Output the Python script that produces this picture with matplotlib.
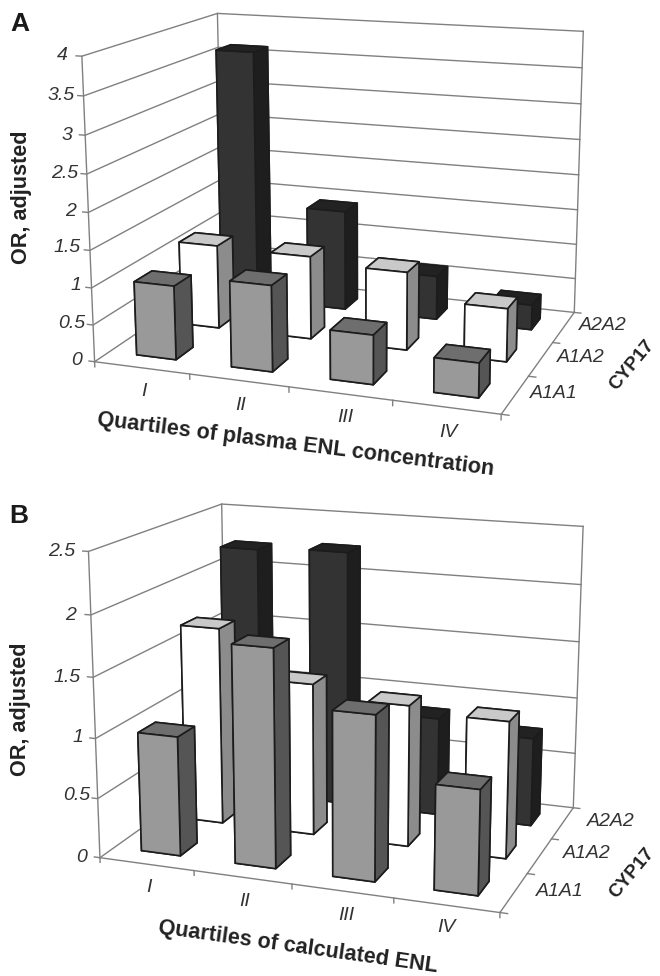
import numpy as np
import matplotlib
matplotlib.use("Agg")
import matplotlib.pyplot as plt

plt.rcParams['font.family'] = ['Liberation Sans', 'DejaVu Sans']

quartiles = ['I', 'II', 'III', 'IV']
genotypes = ['A1A1', 'A1A2', 'A2A2']

# panel A: OR, adjusted
a_A1A1 = [1.0, 1.15, 0.65, 0.45]
a_A1A2 = [1.17, 1.15, 1.07, 0.72]
a_A2A2 = [3.62, 1.43, 0.62, 0.35]
a_ticks = [0, 0.5, 1, 1.5, 2, 2.5, 3, 3.5, 4]
a_ticklabels = ['0', '0.5', '1', '1.5', '2', '2.5', '3', '3.5', '4']

# panel B: OR, adjusted
b_A1A1 = [1.0, 1.8, 1.35, 0.85]
b_A1A2 = [1.7, 1.3, 1.2, 1.15]
b_A2A2 = [2.22, 2.25, 0.86, 0.77]
b_ticks = [0, 0.5, 1, 1.5, 2, 2.5]
b_ticklabels = ['0', '0.5', '1', '1.5', '2', '2.5']

# camera calibration: frame location (x, y, z) -> reference pixel
a_calib = [
    ((0, 0, 0), (96, 360)), ((0, 0, .5), (93, 323)), ((0, 0, 1), (91, 287)), ((0, 0, 1.5), (89, 250)),
    ((0, 0, 2), (87, 212)), ((0, 0, 2.5), (86, 174)), ((0, 0, 3), (85, 136)), ((0, 0, 3.5), (83.5, 97)),
    ((0, 0, 4), (83, 57)), ((0, 3, 4), (218, 12)), ((0, 3, 0), (223, 278)),
    ((4, 3, 4), (584, 32)), ((4, 3, 3.5), (582, 68)), ((4, 3, 3), (581, 104)), ((4, 3, 2.5), (580, 139)),
    ((4, 3, 2), (578, 174)), ((4, 3, 1.5), (577, 210)), ((4, 3, 1), (576, 245)), ((4, 3, .5), (575, 277)),
    ((4, 3, 0), (573, 312)), ((4, 0, 0), (500, 415)),
    ((1, 0, 0), (191, 375)), ((2, 0, 0), (289, 387)), ((3, 0, 0), (392, 402)),
    ((4, 1, 0), (530, 376)), ((4, 2, 0), (555, 342)),
]
b_calib = [
    ((0, 0, 0), (101, 857)), ((0, 0, .5), (99, 797)), ((0, 0, 1), (96, 736)), ((0, 0, 1.5), (93, 678)),
    ((0, 0, 2), (91, 614)), ((0, 0, 2.5), (88, 552)), ((0, 3, 2.5), (221, 504)), ((0, 3, 0), (226, 769)),
    ((4, 3, 2.5), (583, 527)), ((4, 3, 2), (581, 585)), ((4, 3, 1.5), (580, 643)), ((4, 3, 1), (578, 697)),
    ((4, 3, .5), (575, 753)), ((4, 3, 0), (573, 807)), ((4, 0, 0), (500, 912)),
    ((1, 0, 0), (193, 873)), ((2, 0, 0), (291, 886)), ((3, 0, 0), (394, 900)),
    ((4, 1, 0), (526, 873)), ((4, 2, 0), (552, 837)),
]

FACE_COLORS = [
    # bottom, top, front, back, left, right
    ['#999999', '#6e6e6e', '#999999', '#999999', '#555555', '#555555'],
    ['#ffffff', '#c9c9c9', '#ffffff', '#ffffff', '#8c8c8c', '#8c8c8c'],
    ['#333333', '#222222', '#333333', '#333333', '#1e1e1e', '#1e1e1e'],
]
GRID = '#808080'
BAR_W, BAR_D = 0.42, 0.38


def fit_camera(calib):
    rows = []
    for (X, Y, Z), (u, v) in calib:
        u, v = u / 500.0, v / 500.0
        p = [X, Y, Z, 1]
        rows.append(p + [0, 0, 0, 0] + [-u * c for c in p])
        rows.append([0, 0, 0, 0] + p + [-v * c for c in p])
    P = np.linalg.svd(np.array(rows, float))[2][-1].reshape(3, 4)
    P[:2] *= 500.0
    if P[2] @ np.array([2, 1.5, 1, 1]) < 0:
        P = -P
    return P


def use_camera(ax, P):
    def get_proj():
        inv = ax.transData.inverted()
        o = inv.transform((0, 976))
        ex = inv.transform((1, 976))
        ey = inv.transform((0, 975))
        M = np.zeros((4, 4))
        M[0] = (ex[0] - o[0]) * P[0] + o[0] * P[2]
        M[1] = (ey[1] - o[1]) * P[1] + o[1] * P[2]
        M[2] = [0, 0, 0, -1]
        M[3] = P[2]
        return M
    ax.get_proj = get_proj


def panel(rect, calib, series, ticks, ztick_len):
    ax = fig.add_axes(rect, projection='3d', computed_zorder=False)
    ax.set_axis_off()
    ax.patch.set_visible(False)
    use_camera(ax, fit_camera(calib))
    top = ticks[-1]
    lkw = dict(color=GRID, lw=1.0, zorder=1)
    for z in ticks:
        ax.plot([-0.06, 0, 0, 4], [0, 0, 3, 3], [z, z, z, z], **lkw)
    ax.plot([0, 0], [0, 0], [0, top], **lkw)
    ax.plot([0, 0], [3, 3], [0, top], **lkw)
    ax.plot([4, 4], [3, 3], [0, top], **lkw)
    ax.plot([0, 4, 4], [0, 0, 3], [0, 0, 0], **lkw)
    for i in range(5):
        ax.plot([i, i], [0, 0], [0, -ztick_len], **lkw)
    for j in range(4):
        ax.plot([4, 4.07], [j, j], [0, 0], **lkw)
    order = 2
    for j in (2, 1, 0):
        for i in range(4):
            ax.bar3d(i + .5 - BAR_W / 2, j + .5 - BAR_D / 2, 0, BAR_W, BAR_D, series[j][i],
                     color=FACE_COLORS[j], shade=False, edgecolor='#1c1c1c', linewidth=1.2,
                     zorder=order)
            order += 1
    ax.set_xlim(0, 4); ax.set_ylim(0, 3); ax.set_zlim(0, top)
    return ax


def put(x, y, s, **kw):
    fig.text(x / 660, 1 - y / 976, s, **kw)


fig = plt.figure(figsize=(6.6, 9.76), dpi=100, facecolor='white')
H = 660 / 976
panel([0, 1 - H, 1, H], a_calib, [a_A1A1, a_A1A2, a_A2A2], a_ticks, 0.07)
panel([0, 0, 1, H], b_calib, [b_A1A1, b_A1A2, b_A2A2], b_ticks, 0.04)

tick = dict(style='italic', fontsize=14, color='#333333', va='center')
label = dict(fontweight='bold', fontsize=15.6, color='#222222', rotation_mode='anchor')
cyp = dict(fontweight='bold', fontsize=13.6, color='#222222', rotation_mode='anchor', rotation=50,
           ha='center', va='center')

# panel A text
a_tick_x = [82, 85, 81, 81, 76, 78, 72, 75, 68]
a_tick_y = [360, 323, 286, 248, 211, 174, 136, 96, 55]
for t, x, y in zip(a_ticklabels, a_tick_x, a_tick_y):
    put(x, y, t, ha='right', **tick)
for t, x, y in zip(quartiles, [144, 241, 345, 448], [391, 406, 418, 433]):
    put(x, y, t, ha='center', **tick)
for t, x, y in zip(genotypes, [554, 581, 603], [393, 357, 325]):
    put(x, y, t, ha='center', **tick)
put(22, 197, 'OR, adjusted', rotation=90, ha='center', va='center', **label)
put(296, 445, 'Quartiles of plasma ENL concentration', rotation=-7.2, ha='center', va='center', **label)
put(632, 365, 'CYP17', **cyp)
put(20, 24, 'A', fontweight='bold', fontsize=19, color='#1a1a1a', ha='center', va='center')

# panel B text
b_tick_x = [87, 90, 83, 81, 76, 75]
b_tick_y = [858, 796, 737, 678, 615, 552]
for t, x, y in zip(b_ticklabels, b_tick_x, b_tick_y):
    put(x, y, t, ha='right', **tick)
for t, x, y in zip(quartiles, [149, 245, 346, 446], [887, 901, 915, 928]):
    put(x, y, t, ha='center', **tick)
for t, x, y in zip(genotypes, [560, 587, 611], [891, 854, 822]):
    put(x, y, t, ha='center', **tick)
put(21, 709, 'OR, adjusted', rotation=90, ha='center', va='center', **label)
put(298, 947, 'Quartiles of calculated ENL', rotation=-8, ha='center', va='center', **label)
put(632, 873, 'CYP17', **cyp)
put(19, 516, 'B', fontweight='bold', fontsize=19, color='#1a1a1a', ha='center', va='center')

fig.savefig('out.png', dpi=100, facecolor='white')
